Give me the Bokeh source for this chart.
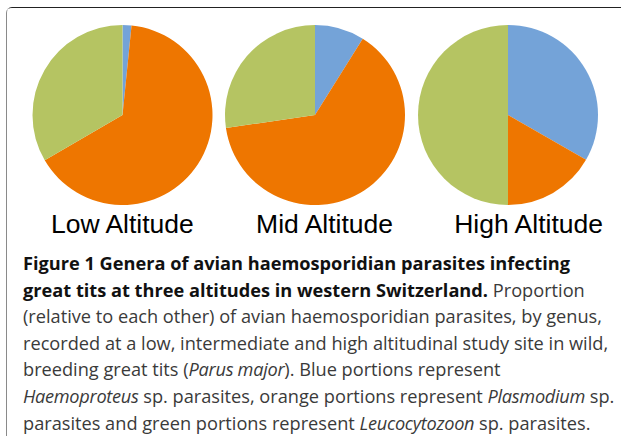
import numpy as np
from bokeh.plotting import figure
from bokeh.models import Range1d, ColumnDataSource, Div
from bokeh.layouts import column
from bokeh.core.properties import value
from bokeh.embed import file_html
from bokeh.resources import INLINE

# ---- data ----
altitudes = ["Low Altitude", "Mid Altitude", "High Altitude"]
genera = ["Haemoproteus", "Plasmodium", "Leucocytozoon"]
haemoproteus = [1.6, 8.9, 33.3]     # % blue
plasmodium = [65.0, 63.8, 16.7]     # % orange
leucocytozoon = [33.4, 27.3, 50.0]  # % green

caption_lines = [
    "<b>Figure 1 Genera of avian haemosporidian parasites infecting</b>",
    "<b>great tits at three altitudes in western Switzerland.</b> Proportion",
    "(relative to each other) of avian haemosporidian parasites, by genus,",
    "recorded at a low, intermediate and high altitudinal study site in wild,",
    "breeding great tits (<i>Parus major</i>). Blue portions represent",
    "<i>Haemoproteus</i> sp. parasites, orange portions represent <i>Plasmodium</i> sp.",
    "parasites and green portions represent <i>Leucocytozoon</i> sp. parasites.",
]

# ---- layout / style ----
colors = ["#74A3D8", "#EE7600", "#B5C462"]
W, H = 614, 242
pie_cx = [115, 307.5, 500.5]
pie_cy = H - 106.5
pie_r = 90
label_x = [115.6, 317.8, 521.8]
label_y = H - 215

p = figure(width=W, height=H, output_backend="svg", toolbar_location=None,
           x_range=Range1d(0, W), y_range=Range1d(0, H),
           x_axis_location=None, y_axis_location=None,
           min_border=0, outline_line_color=None)
p.grid.visible = False
p.background_fill_color = "white"
p.border_fill_color = "white"

xs, ys, starts, ends, cols = [], [], [], [], []
for i in range(len(altitudes)):
    vals = np.array([haemoproteus[i], plasmodium[i], leucocytozoon[i]], dtype=float)
    frac = vals / vals.sum()
    cum = np.concatenate([[0], np.cumsum(frac)])
    for k in range(3):
        xs.append(pie_cx[i])
        ys.append(pie_cy)
        starts.append(np.pi / 2 - 2 * np.pi * cum[k])
        ends.append(np.pi / 2 - 2 * np.pi * cum[k + 1])
        cols.append(colors[k])

src = ColumnDataSource(dict(x=xs, y=ys, start=starts, end=ends, color=cols))
p.wedge(x="x", y="y", radius=pie_r, start_angle="start", end_angle="end",
        direction="clock", fill_color="color", line_color=None, source=src)

p.text(x=label_x, y=[label_y] * 3, text=altitudes,
       text_font=value("Liberation Sans"), text_font_size="26.5px",
       text_align="center", text_baseline="alphabetic", text_color="#000000")

div = Div(text="<br>".join(caption_lines), width=W, height=186, margin=0,
          styles={"font-family": "'Open Sans'", "font-size": "18.2px",
                  "line-height": "26.6px", "color": "#3a3a3a",
                  "white-space": "nowrap", "padding-left": "16px"},
          stylesheets=[":host b { color: #111111; }",
                       ":host i { letter-spacing: -0.3px; }"])

layout = column(p, div, spacing=0,
                styles={"border-left": "1px solid #8a8a8a",
                        "border-top": "1.5px solid #222222",
                        "border-top-left-radius": "6px",
                        "margin-left": "6px", "margin-top": "7px"})

open("out.html", "w").write(file_html(layout, INLINE))
